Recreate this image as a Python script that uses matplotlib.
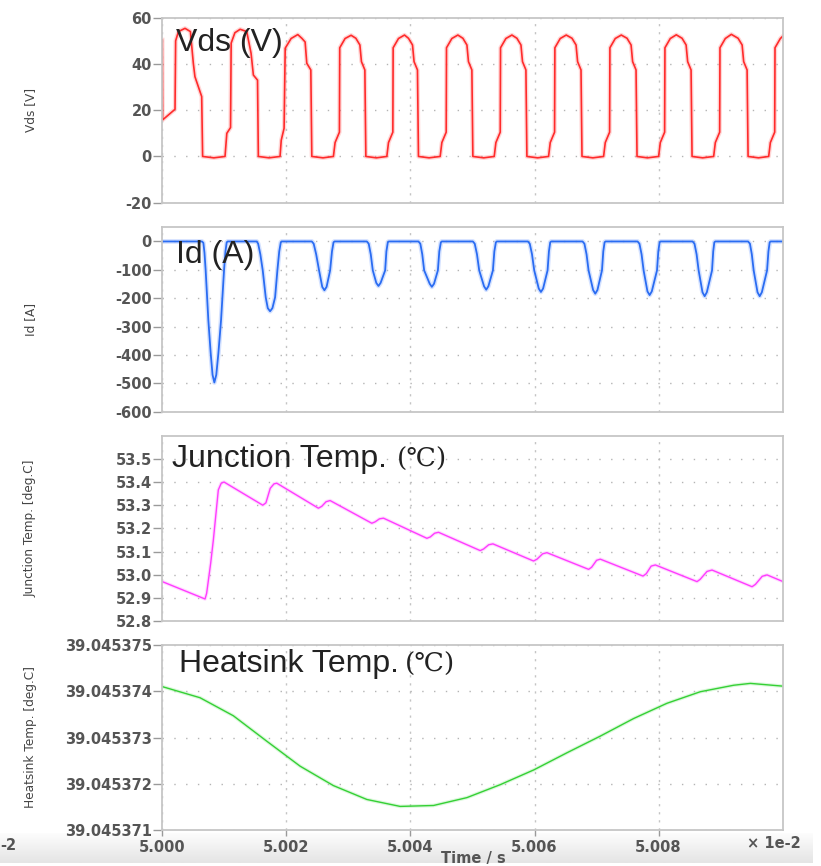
import matplotlib
matplotlib.use('Agg')
import matplotlib.pyplot as plt
import numpy as np
from matplotlib.ticker import FixedLocator, FormatStrFormatter

plt.rcParams['axes.unicode_minus'] = False
plt.rcParams['font.family'] = ['DejaVu Sans']

# time axis: microseconds after t = 5.000e-2 s (axis shows 5.000 .. 5.010 x 1e-2)
vds_t = [0.00, 0.05, 2.05, 2.15, 2.60, 3.66, 4.53, 5.00, 5.26, 6.35, 6.50, 8.30,
         10.11, 10.40, 11.00, 11.10, 11.70, 12.55, 13.61, 14.31, 14.68, 15.35, 15.48, 17.20,
         18.98, 19.17, 19.63, 19.81, 20.76, 21.84, 22.49, 23.02, 23.29, 23.94, 24.10, 25.90,
         27.58, 27.85, 28.55, 28.60, 29.46, 30.43, 31.20, 31.85, 32.10, 32.65, 32.81, 34.50,
         36.19, 36.46, 37.16, 37.21, 38.07, 39.04, 39.68, 40.33, 40.58, 41.13, 41.29, 43.00,
         44.79, 45.06, 45.76, 45.81, 46.67, 47.64, 48.45, 49.10, 49.35, 49.90, 50.06, 51.80,
         53.50, 53.77, 54.47, 54.52, 55.38, 56.35, 57.16, 57.81, 58.06, 58.61, 58.77, 60.50,
         62.26, 62.53, 63.23, 63.28, 64.14, 65.11, 66.04, 66.69, 66.94, 67.49, 67.65, 69.40,
         71.13, 71.40, 72.10, 72.15, 73.01, 73.98, 74.91, 75.56, 75.81, 76.36, 76.52, 78.20,
         80.00, 80.27, 80.97, 81.02, 81.88, 82.85, 83.78, 84.43, 84.68, 85.23, 85.39, 87.10,
         88.87, 89.14, 89.84, 89.89, 90.75, 91.72, 92.81, 93.46, 93.71, 94.26, 94.42, 96.10,
         97.74, 98.01, 98.71, 98.76, 99.62, 100.10]
vds_v = [50.4, 15.8, 20.4, 50.0, 54.0, 55.4, 54.0, 40.3, 34.5, 25.9, 0.0, -0.6,
         0.0, 10.0, 12.5, 49.0, 53.5, 55.0, 54.0, 44.6, 35.2, 33.0, 0.0, -0.6,
         0.0, 7.0, 12.2, 46.8, 51.0, 52.7, 51.1, 49.5, 40.3, 37.4, 0.0, -0.6,
         0.0, 6.0, 10.5, 47.0, 51.0, 52.4, 51.1, 48.2, 41.0, 37.4, 0.0, -0.6,
         0.0, 6.0, 10.5, 47.0, 51.0, 52.5, 51.1, 48.2, 41.0, 37.4, 0.0, -0.6,
         0.0, 6.0, 10.5, 47.0, 51.0, 52.5, 51.1, 48.2, 41.0, 37.4, 0.0, -0.6,
         0.0, 6.0, 10.5, 47.0, 51.0, 52.5, 51.1, 48.2, 41.0, 37.4, 0.0, -0.6,
         0.0, 6.0, 10.5, 47.0, 51.0, 52.5, 51.1, 48.2, 41.0, 37.4, 0.0, -0.6,
         0.0, 6.0, 10.5, 47.0, 51.0, 52.5, 51.1, 48.2, 41.0, 37.4, 0.0, -0.6,
         0.0, 6.0, 10.5, 47.0, 51.0, 52.6, 51.1, 48.2, 41.0, 37.4, 0.0, -0.6,
         0.0, 6.0, 10.5, 47.0, 51.0, 52.8, 51.1, 48.2, 41.0, 37.4, 0.0, -0.6,
         0.0, 6.0, 10.5, 47.0, 51.0, 52.2]

id_t = [0.00,
        6.40, 6.62, 6.80, 6.99, 7.42, 7.80, 8.10, 8.39, 8.70, 9.04, 9.47, 9.95, 10.18, 10.38, 10.55,
        15.22, 15.45, 15.80, 16.19, 16.67, 17.00, 17.37, 17.75, 18.18, 18.55, 18.85, 19.10, 19.25,
        24.10, 24.40, 24.80, 25.27, 25.78, 26.13, 26.48, 27.05, 27.35, 27.60, 27.75,
        32.97, 33.27, 33.60, 33.93, 34.49, 34.84, 35.19, 35.92, 36.12, 36.35, 36.50,
        41.29, 41.59, 41.90, 42.21, 43.10, 43.45, 43.80, 44.42, 44.65, 44.90, 45.05,
        50.06, 50.36, 50.72, 51.08, 51.86, 52.21, 52.56, 53.29, 53.52, 53.77, 53.92,
        58.93, 59.23, 59.59, 59.95, 60.68, 61.03, 61.38, 62.10, 62.32, 62.53, 62.68,
        67.74, 68.04, 68.38, 68.71, 69.44, 69.79, 70.14, 70.87, 71.08, 71.29, 71.44,
        76.61, 76.91, 77.25, 77.58, 78.20, 78.55, 78.90, 79.74, 79.95, 80.16, 80.31,
        85.48, 85.78, 86.12, 86.45, 87.07, 87.42, 87.77, 88.61, 88.80, 88.98, 89.13,
        94.42, 94.72, 95.02, 95.32, 95.94, 96.29, 96.64, 97.48, 97.70, 97.90, 98.05,
        100.10]
id_a = [0,
        0, -5, -40, -102, -277, -394, -470, -497, -470, -394, -277, -102, -35, -3, 0,
        0, -8, -45, -102, -197, -235, -246, -235, -197, -102, -35, -3, 0,
        0, -8, -45, -102, -160, -172, -160, -102, -35, -3, 0,
        0, -8, -45, -102, -146, -157, -146, -102, -35, -3, 0,
        0, -8, -45, -102, -149, -160, -149, -102, -35, -3, 0,
        0, -8, -45, -102, -158, -170, -158, -102, -35, -3, 0,
        0, -8, -45, -102, -166, -178, -166, -102, -35, -3, 0,
        0, -8, -45, -102, -171, -184, -171, -102, -35, -3, 0,
        0, -8, -45, -102, -176, -189, -176, -102, -35, -3, 0,
        0, -8, -45, -102, -179, -193, -179, -102, -35, -3, 0,
        0, -8, -45, -102, -179, -193, -179, -102, -35, -3, 0,
        0]

tj_t = [0.00, 6.89, 7.15, 7.80, 8.23, 9.03, 9.50, 9.95,
        16.19, 16.70, 17.40, 18.00, 18.45,
        25.16, 25.70, 26.40, 27.05,
        33.77, 34.30, 35.00, 35.65,
        42.65, 43.20, 43.90, 44.52,
        51.24, 51.80, 52.60, 53.29,
        59.84, 60.40, 61.30, 62.00,
        68.71, 69.20, 70.00, 70.60,
        77.48, 78.00, 78.80, 79.47,
        86.19, 86.70, 87.80, 88.61,
        95.06, 95.60, 96.70, 97.48,
        100.06]
tj_c = [52.970, 52.895, 52.920, 53.050, 53.150, 53.366, 53.395, 53.400,
        53.300, 53.310, 53.373, 53.392, 53.395,
        53.287, 53.295, 53.315, 53.320,
        53.222, 53.228, 53.241, 53.244,
        53.157, 53.163, 53.179, 53.183,
        53.104, 53.111, 53.129, 53.133,
        53.059, 53.067, 53.090, 53.095,
        53.023, 53.032, 53.062, 53.067,
        52.994, 53.004, 53.037, 53.042,
        52.970, 52.980, 53.014, 53.020,
        52.948, 52.958, 52.993, 52.999,
        52.970]

hs_t = [0.00, 6.08, 11.45, 16.84, 22.21, 27.58, 32.97, 38.34, 43.71, 49.10,
        54.47, 59.89, 65.23, 70.60, 75.97, 81.35, 86.73, 92.10, 94.79, 100.06]
hs_c = [39.0453741, 39.04537386, 39.04537347, 39.04537292, 39.04537238, 39.04537196,
        39.04537166, 39.04537151, 39.04537153, 39.0453717, 39.04537198, 39.0453723,
        39.04537267, 39.04537303, 39.04537341, 39.04537374, 39.04537399, 39.04537413,
        39.04537417, 39.04537411]

W, H = 821, 866
fig = plt.figure(figsize=(W / 100, H / 100), dpi=100)


def px_axes(top, bottom, left=162.3, right=782.7):
    return fig.add_axes([left / W, 1 - bottom / H, (right - left) / W, (bottom - top) / H])


# grey band behind the time axis
band = fig.add_axes([0, 1 - 863 / H, 812 / W, 30 / H], zorder=-5)
band.imshow(np.linspace(0.99, 0.895, 60).reshape(-1, 1), cmap='gray', vmin=0, vmax=1,
            aspect='auto', extent=(0, 1, 0, 1))
band.axis('off')

ax1 = px_axes(17.7, 202.7)
ax2 = px_axes(226.7, 411.7)
ax3 = px_axes(435.7, 621.0)
ax4 = px_axes(645.0, 830.0)
axes = [ax1, ax2, ax3, ax4]


def tx(t):
    # microseconds -> axis units of 1e-2 s
    return 5.0 + np.asarray(t) / 10000.0


def glow(ax, x, y, core, halo, lw):
    ax.plot(x, y, color=halo, lw=lw * 2.6, alpha=0.35, solid_joinstyle='round')
    ax.plot(x, y, color=core, lw=lw, solid_joinstyle='round')


glow(ax1, tx(vds_t), vds_v, '#ff2b2b', '#ff8a8a', 1.2)
glow(ax2, tx(id_t), id_a, '#2a6cf2', '#86acff', 1.3)
glow(ax3, tx(tj_t), tj_c, '#ff3cff', '#ff9cff', 1.0)
glow(ax4, tx(hs_t), hs_c, '#35d035', '#98ec98', 1.0)

ax1.set_ylim(-20, 60)
ax1.yaxis.set_major_locator(FixedLocator([-20, 0, 20, 40, 60]))
ax2.set_ylim(-600, 52)
ax2.yaxis.set_major_locator(FixedLocator([-600, -500, -400, -300, -200, -100, 0]))
ax3.set_ylim(52.8, 53.6)
ax3.yaxis.set_major_locator(FixedLocator([52.8, 52.9, 53.0, 53.1, 53.2, 53.3, 53.4, 53.5]))
ax3.yaxis.set_major_formatter(FormatStrFormatter('%.1f'))
ax4.set_ylim(39.045371, 39.045375)
ax4.yaxis.set_major_locator(FixedLocator([39.045371, 39.045372, 39.045373, 39.045374, 39.045375]))
ax4.yaxis.set_major_formatter(FormatStrFormatter('%.6f'))

ylabels = ['Vds [V]', 'Id [A]', 'Junction Temp. [deg.C]', 'Heatsink Temp. [deg.C]']
for ax, lab in zip(axes, ylabels):
    ax.set_xlim(5.000, 5.010)
    ax.xaxis.set_major_locator(FixedLocator([5.000, 5.002, 5.004, 5.006, 5.008]))
    ax.xaxis.set_major_formatter(FormatStrFormatter('%.3f'))
    for s in ax.spines.values():
        s.set_color('#c6c6c6')
        s.set_linewidth(1.3)
    ax.tick_params(axis='y', length=6.5, width=1, color='#9a9a9a', pad=1,
                   labelsize=10.5, labelcolor='#555555')
    for t in ax.get_yticklabels():
        t.set_fontweight('bold')
    ax.grid(True, axis='y', color='#b4b4b4', lw=1.0, linestyle=(0, (1, 7.5)))
    ax.grid(True, axis='x', color='#c4c4c4', lw=1.0, linestyle=(0, (1.6, 4.2)))
    ax.set_ylabel(lab, fontsize=8.7, color='#444444')
    ax.yaxis.set_label_coords(-0.202, 0.5)
    if ax is not ax4:
        ax.tick_params(axis='x', length=0, labelbottom=False)

ax4.tick_params(axis='x', length=4, width=1, color='#9a9a9a', pad=3,
                labelsize=10.5, labelcolor='#555555')
for t in ax4.get_xticklabels():
    t.set_fontweight('bold')


def ftext(x, y, s, **kw):
    return fig.text(x / W, 1 - y / H, s, **kw)


big = dict(fontsize=23, color='#222222', family=['Liberation Sans', 'DejaVu Sans'], va='baseline')
deg = dict(fontsize=19, color='#222222', family=['DejaVu Serif', 'DejaVu Sans', 'Noto Sans CJK SC'],
           va='baseline')
ftext(176, 51.5, 'Vds (V)', **big)
ftext(176, 263.3, 'Id (A)', **big)
ftext(172, 466.7, 'Junction Temp. ', **big)
ftext(397, 466.7, '(℃)', **deg)
ftext(179, 671.7, 'Heatsink Temp. ', **big)
ftext(405, 671.7, '(℃)', **deg)

ftext(747, 843, '× 1e-2', fontsize=10.5, fontweight='bold', color='#555555', va='center')
ftext(473, 858, 'Time / s', fontsize=10.5, fontweight='bold', color='#555555', va='center', ha='center')
ftext(0, 845, '-2', fontsize=10.5, fontweight='bold', color='#555555', va='center')

fig.savefig('out.png', dpi=100)
